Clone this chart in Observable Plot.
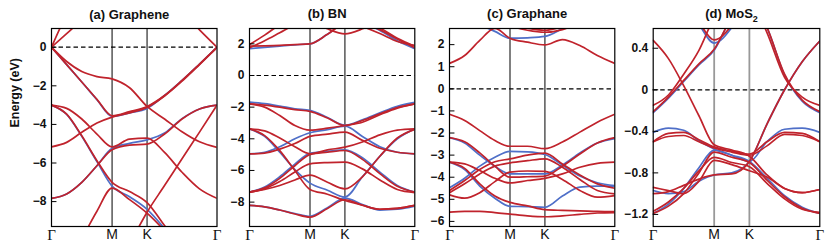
<!DOCTYPE html>
<html>
<head>
<meta charset="utf-8">
<script src="https://cdn.jsdelivr.net/npm/d3@7"></script>
<script src="https://cdn.jsdelivr.net/npm/@observablehq/plot@0.6"></script>
<style>
  html, body { margin: 0; padding: 0; background: #fff; overflow: hidden; width: 831px; height: 250px; }
  #chart { position: relative; width: 831px; height: 250px; overflow: hidden; background: #fff; }
  #chart svg { position: absolute; top: 0; }
</style>
</head>
<body>
<div id="chart"></div>
<script>
// k-path sample points: Γ → M → K → Γ (hexagonal BZ, |ΓM| = 1)
const kPath = [0, 0.25, 0.5, 0.75, 1, 1.2887, 1.5774, 1.8661, 2.1547, 2.4434, 2.7321];
const kTicks = [0, 1, 1.5774, 2.7321];
const kLabels = ["Γ", "M", "K", "Γ"];
const titles = ["(a) Graphene", "(b) BN", "(c) Graphane", "(d) MoS2"];
const yAxisLabel = "Energy (eV)";

// y ticks and labels per panel
const yTicksA = [0, -2, -4, -6, -8];
const yLabelsA = ["0", "−2", "−4", "−6", "−8"];
const yTicksB = [2, 0, -2, -4, -6, -8];
const yLabelsB = ["2", "0", "−2", "−4", "−6", "−8"];
const yTicksC = [2, 1, 0, -1, -2, -3, -4, -5, -6];
const yLabelsC = ["2", "1", "0", "−1", "−2", "−3", "−4", "−5", "−6"];
const yTicksD = [0.4, 0, -0.4, -0.8, -1.2];
const yLabelsD = ["0.4", "0", "−0.4", "−0.8", "−1.2"];

// (a) Graphene — energies (eV) at the kPath points
const grapheneRed = [
  [0, 0.7, 1.4, 2.0, 2.4, 2.6, 2.6, 2.4, 1.85, 0.9, 0],
  [0, 1.7, 3.0, 3.5, 3.6, 3.6, 3.6, 3.6, 3.6, 3.6, 3.6],
  [0, -0.74, -1.26, -1.52, -1.64, -2.1, -3.07, -3.72, -4.38, -4.9, -5.19],
  [0, -0.9, -1.8, -2.7, -3.55, -3.34, -3.07, -2.5, -1.72, -0.87, 0],
  [-5.16, -4.93, -4.41, -3.93, -3.62, -3.4, -3.12, -2.53, -1.76, -0.9, -0.02],
  [-3.0, -3.17, -3.72, -4.5, -5.16, -4.76, -4.71, -5.45, -6.48, -7.34, -7.83],
  [-7.83, -7.6, -7.0, -6.14, -5.31, -5.07, -5.02, -4.5, -3.72, -3.2, -3.0],
  [-3.0, -3.47, -4.59, -5.88, -7.0, -7.48, -8.05, -9.24, -10.5, -11.5, -12],
  [-12, -11, -9.9, -8.5, -7.3, -7.9, -8.6, -9.5, -10.5, -11.5, -12],
  [-14, -13.5, -13, -12.5, -11.8, -10.2, -8.55, -7.17, -5.78, -4.4, -3.0]
];
const grapheneBlue = [
  [0, -0.9, -1.8, -2.72, -3.58, -3.4, -3.17, -2.5, -1.72, -0.87, 0],
  [-7.83, -7.6, -7.0, -6.14, -5.24, -4.98, -4.8, -4.45, -3.7, -3.2, -3.0],
  [-3.0, -3.48, -4.62, -5.93, -7.2, -7.75, -8.4, -9.4, -10.6, -11.6, -12.1]
];

// (b) BN
const bnRed = [
  [-1.79, -1.87, -2.0, -2.16, -2.27, -2.69, -3.16, -2.84, -2.42, -2.02, -1.79],
  [-1.79, -2.0, -2.53, -3.16, -3.45, -3.33, -3.16, -2.95, -2.48, -2.06, -1.79],
  [-4.95, -4.9, -4.65, -4.3, -3.85, -3.7, -3.58, -4.1, -4.6, -4.85, -4.95],
  [-3.37, -3.5, -3.95, -4.5, -4.95, -4.7, -4.53, -4.2, -3.75, -3.45, -3.37],
  [-3.37, -3.8, -4.75, -6.0, -7.2, -7.5, -7.9, -8.2, -8.45, -8.4, -8.21],
  [-7.37, -7.2, -6.95, -6.6, -6.3, -6.75, -7.16, -6.4, -5.1, -3.95, -3.4],
  [-7.37, -7.1, -6.5, -5.7, -5.0, -4.85, -4.74, -5.3, -6.2, -7.0, -7.37],
  [-7.37, -7.15, -6.7, -6.1, -5.58, -5.5, -5.47, -5.9, -6.6, -7.2, -7.4],
  [-8.21, -8.3, -8.5, -8.75, -8.95, -8.4, -7.85, -8.2, -8.45, -8.4, -8.21],
  [1.85, 1.87, 1.9, 1.95, 2.0, 2.6, 3.3, 3.4, 3.0, 2.35, 1.85],
  [1.75, 2.2, 2.7, 3.2, 3.5, 3.6, 3.5, 3.3, 2.9, 2.3, 1.75],
  [1.95, 2.55, 3.2, 3.6, 3.8, 3.7, 3.5, 3.1, 2.65, 2.15, 1.9],
  [4, 4, 4, 3.8, 3.5, 2.95, 2.63, 2.95, 3.5, 4, 4]
];
const bnBlue = [
  [-1.68, -1.78, -1.93, -2.1, -2.2, -2.65, -3.14, -2.8, -2.36, -1.95, -1.7],
  [-4.95, -4.85, -4.5, -4.0, -3.62, -3.42, -3.2, -3.85, -4.5, -4.85, -4.95],
  [-3.37, -3.85, -4.85, -5.95, -6.8, -7.25, -7.68, -6.4, -5.1, -4.0, -3.37],
  [-7.37, -7.05, -6.4, -5.6, -4.92, -4.8, -4.7, -5.2, -6.1, -6.95, -7.37],
  [-8.21, -8.3, -8.5, -8.72, -8.9, -8.35, -7.75, -8.15, -8.5, -8.45, -8.25],
  [1.7, 1.78, 1.86, 1.94, 2.0, 2.6, 3.3, 3.3, 2.85, 2.2, 1.7]
];

// (c) Graphane
const graphaneRed = [
  [-1.15, -1.43, -1.89, -2.34, -2.6, -2.6, -2.71, -2.41, -1.96, -1.51, -1.15],
  [-2.21, -2.4, -2.9, -3.5, -4.0, -3.98, -3.95, -3.5, -2.95, -2.45, -2.21],
  [-4.6, -4.15, -3.65, -3.3, -3.17, -3.0, -2.91, -3.4, -3.9, -4.3, -4.5],
  [-3.32, -3.4, -3.7, -4.05, -4.26, -4.15, -4.05, -3.85, -3.55, -3.37, -3.32],
  [-4.7, -4.3, -3.85, -3.5, -3.35, -3.25, -3.17, -3.55, -4.1, -4.6, -4.75],
  [-4.8, -4.95, -4.7, -4.2, -3.77, -3.72, -3.74, -4.1, -4.6, -4.9, -4.83],
  [-3.32, -3.6, -4.3, -4.85, -5.14, -5.3, -5.47, -5.5, -5.52, -5.55, -5.56],
  [-5.58, -5.55, -5.55, -5.6, -5.67, -5.75, -5.79, -5.75, -5.68, -5.62, -5.6],
  [1.15, 1.51, 2.19, 2.74, 2.29, 2.11, 1.99, 2.23, 1.96, 1.51, 1.15],
  [3.5, 3.5, 3.4, 3.1, 2.85, 2.65, 2.56, 2.68, 3.0, 3.4, 3.5],
  [3.6, 3.6, 3.5, 3.2, 2.95, 2.75, 2.65, 2.8, 3.1, 3.5, 3.6]
];
const graphaneBlue = [
  [-4.48, -4.05, -3.5, -3.1, -2.83, -2.85, -2.97, -3.45, -3.95, -4.25, -4.38],
  [-2.21, -2.45, -3.0, -3.5, -3.85, -3.85, -3.85, -3.45, -2.9, -2.45, -2.25],
  [-3.32, -3.65, -4.4, -4.95, -5.32, -5.33, -5.36, -4.85, -4.45, -4.4, -4.4],
  [3.5, 3.2, 2.9, 2.6, 2.29, 2.31, 2.37, 2.72, 3.1, 3.4, 3.5]
];

// (d) MoS2
const mos2Red = [
  [0.475, 0.30, 0.04, -0.25, -0.53, -0.58, -0.64, -0.82, -0.95, -0.99, -0.96],
  [-1.0, -0.98, -0.92, -0.86, -0.82, -0.81, -0.69, -0.33, 0.0, 0.27, 0.47],
  [-0.15, -0.05, 0.15, 0.38, 0.7, 0.95, 0.9, 0.55, 0.12, -0.07, -0.15],
  [-0.21, -0.07, 0.09, 0.25, 0.39, 0.7, 0.9, 0.6, 0.15, -0.1, -0.21],
  [1.0, 0.95, 0.85, 0.65, 0.48, 0.62, 0.9, 1, 1, 1, 1],
  [-0.5, -0.45, -0.44, -0.5, -0.56, -0.6, -0.63, -0.54, -0.43, -0.44, -0.5],
  [-0.5, -0.42, -0.41, -0.48, -0.55, -0.59, -0.62, -0.5, -0.41, -0.42, -0.5],
  [-1.19, -1.12, -1.0, -0.8, -0.6, -0.65, -0.7, -0.87, -1.03, -1.14, -1.19],
  [-1.17, -1.08, -0.95, -0.78, -0.65, -0.7, -0.74, -0.9, -1.05, -1.15, -1.18],
  [-0.94, -0.97, -1.0, -0.88, -0.68, -0.72, -0.78, -0.84, -0.95, -0.99, -0.96]
];
const mos2Blue = [
  [-0.41, -0.37, -0.39, -0.49, -0.57, -0.63, -0.69, -0.5, -0.38, -0.37, -0.41],
  [-0.97, -1.0, -0.98, -0.88, -0.82, -0.8, -0.69, -0.33, 0.0, 0.27, 0.47],
  [-1.19, -1.1, -0.95, -0.75, -0.58, -0.63, -0.69, -0.85, -1.02, -1.13, -1.19],
  [-0.22, -0.08, 0.08, 0.24, 0.38, 0.7, 0.9, 0.6, 0.14, -0.11, -0.22],
  [1.0, 0.95, 0.85, 0.63, 0.45, 0.6, 0.9, 1, 1, 1, 1]
];

const RED = "#c0232c";
const BLUE = "#4f6fc8";

const panels = [
  {left: 0, ml: 51, fw: 165.5, domain: [-9.29, 0.97], ticks: yTicksA, labels: yLabelsA, red: grapheneRed, blue: grapheneBlue, title: titles[0], rule: "#000", ruleW: 1, ylabel: true},
  {left: 214, ml: 35, fw: 165.3, domain: [-9.54, 2.97], ticks: yTicksB, labels: yLabelsB, red: bnRed, blue: bnBlue, title: titles[1], rule: "#000", ruleW: 1},
  {left: 414, ml: 35, fw: 165.3, domain: [-6.23, 2.73], ticks: yTicksC, labels: yLabelsC, red: graphaneRed, blue: graphaneBlue, title: titles[2], rule: "#000", ruleW: 1},
  {left: 614, ml: 38.7, fw: 166.6, domain: [-1.316, 0.59], ticks: yTicksD, labels: yLabelsD, red: mos2Red, blue: mos2Blue, title: titles[3], rule: "#999", ruleW: 1.8}
];

function rows(bands, tag) {
  return bands.flatMap((b, i) => b.map((E, j) => ({k: kPath[j], E, band: tag + i})));
}

const chart = document.getElementById("chart");
const mr = 6;

for (const p of panels) {
  const marks = [
    Plot.ruleX([kTicks[1], kTicks[2]], {stroke: p.rule, strokeWidth: p.ruleW}),
    Plot.ruleY([0], {stroke: "#000", strokeWidth: 1.2, strokeDasharray: "4.5,3"}),
    Plot.line(rows(p.blue, "b"), {x: "k", y: "E", z: "band", stroke: BLUE, strokeWidth: 1.7, curve: "monotone-x", clip: true}),
    Plot.line(rows(p.red, "r"), {x: "k", y: "E", z: "band", stroke: RED, strokeWidth: 1.7, curve: "monotone-x", clip: true}),
    Plot.ruleY(p.ticks, {x1: 0, x2: 0.09, stroke: "#000", strokeWidth: 1}),
    Plot.text([p.title], {frameAnchor: "top", lineAnchor: "bottom", dy: -10, dx: -5, fontSize: 13, fontWeight: "bold", fill: "#111"}),
    Plot.text(kTicks.filter((d, i) => kLabels[i] === "Γ"), {x: d => d, frameAnchor: "bottom", lineAnchor: "top", dy: 2.5, text: () => "Γ", fontFamily: "'Liberation Serif', 'DejaVu Serif', serif", fontSize: 15, fontWeight: "normal", fill: "#111"}),
    Plot.text(kTicks.filter((d, i) => kLabels[i] !== "Γ"), {x: d => d, frameAnchor: "bottom", lineAnchor: "top", dy: 2.5, text: d => kLabels[kTicks.indexOf(d)], fontSize: 14, fontWeight: "normal", fill: "#111"}),
    Plot.frame({stroke: "#000", strokeWidth: 1.2})
  ];
  if (p.ylabel) {
    marks.push(Plot.text([yAxisLabel], {frameAnchor: "left", dx: -37, rotate: -90, fontSize: 12.5, fontWeight: "bold", fill: "#111"}));
  }
  const svg = Plot.plot({
    width: p.ml + p.fw + mr,
    height: 250,
    marginLeft: p.ml,
    marginRight: mr,
    marginTop: 28,
    marginBottom: 24,
    x: {domain: [0, kTicks[3]], axis: null},
    y: {domain: p.domain, ticks: p.ticks, tickFormat: d => p.labels[p.ticks.indexOf(d)], tickSize: 0, tickPadding: 5, label: null},
    style: {fontFamily: "'Liberation Sans', Arial, Helvetica, sans-serif", fontSize: "12px", fontWeight: "bold", background: "transparent", color: "#111"},
    marks
  });
  svg.style.left = p.left + "px";
  // subscript in MoS2 title
  svg.querySelectorAll("text").forEach(t => {
    if (t.textContent === "(d) MoS2") {
      t.textContent = "(d) MoS";
      const ts = document.createElementNS("http://www.w3.org/2000/svg", "tspan");
      ts.setAttribute("dy", "0.35em");
      ts.setAttribute("font-size", "9");
      ts.textContent = "2";
      t.appendChild(ts);
    }
  });
  chart.appendChild(svg);
}
</script>
</body>
</html>
